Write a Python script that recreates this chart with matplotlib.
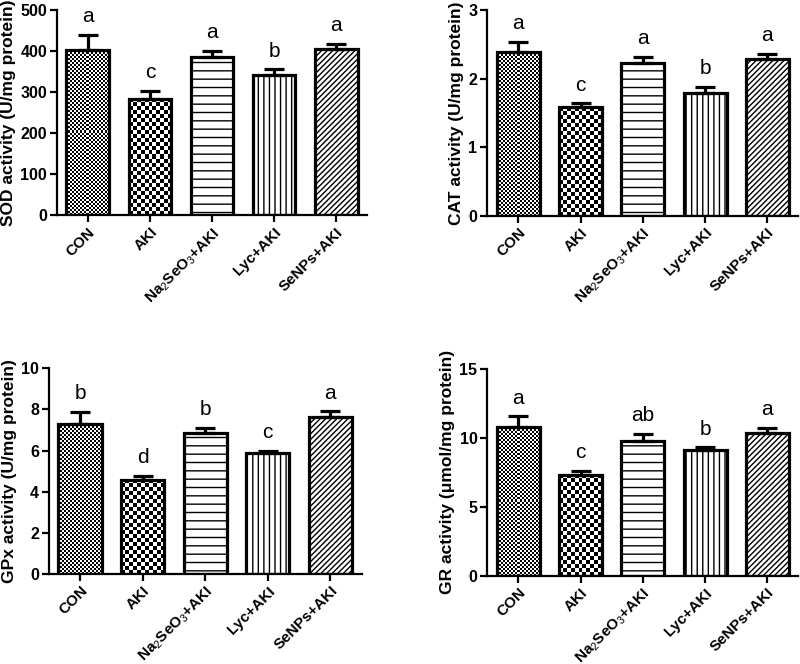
import numpy as np
import matplotlib
matplotlib.use('Agg')
import matplotlib.pyplot as plt

plt.rcParams['font.family'] = ['Liberation Sans', 'DejaVu Sans']
plt.rcParams['mathtext.fontset'] = 'custom'
plt.rcParams['mathtext.rm'] = 'Liberation Sans'
plt.rcParams['mathtext.it'] = 'Liberation Sans'
plt.rcParams['hatch.linewidth'] = 1.0

# 各組名稱
groups = ['CON', 'AKI', 'Na$_2$SeO$_3$+AKI', 'Lyc+AKI', 'SeNPs+AKI']

# SOD
sod_mean = [402, 284, 386, 341, 404]
sod_err = [37, 19, 15, 14, 14]
sod_letters = ['a', 'c', 'a', 'b', 'a']

# CAT
cat_mean = [2.39, 1.58, 2.22, 1.79, 2.28]
cat_err = [0.15, 0.06, 0.10, 0.09, 0.08]
cat_letters = ['a', 'c', 'a', 'b', 'a']

# GPx
gpx_mean = [7.28, 4.58, 6.84, 5.87, 7.64]
gpx_err = [0.60, 0.20, 0.26, 0.12, 0.26]
gpx_letters = ['b', 'd', 'b', 'c', 'a']

# GR
gr_mean = [10.77, 7.34, 9.81, 9.15, 10.36]
gr_err = [0.80, 0.29, 0.48, 0.19, 0.39]
gr_letters = ['a', 'c', 'ab', 'b', 'a']

fig = plt.figure(figsize=(8, 6.64), dpi=100)


def checker(ax, x0, x1, top, cell):
    # 用棋盤格圖片填滿長條
    p0 = ax.transData.transform((x0, 0))
    p1 = ax.transData.transform((x1, top))
    ncol = max(1, int(round(abs(p1[0] - p0[0]) / cell)))
    nrow = max(1, int(round(abs(p1[1] - p0[1]) / cell)))
    ii, jj = np.indices((nrow, ncol))
    img = (ii + jj) % 2
    ax.imshow(img, cmap='gray', extent=(x0, x1, 0, top), origin='lower',
              aspect='auto', interpolation='nearest', zorder=1)


def panel(rect, mean, err, letters, ylim, yticks, ylabel):
    ax = fig.add_axes(rect)
    x = np.arange(len(mean))
    w = 0.69
    ax.set_xlim(-0.5, 4.5)
    ax.set_ylim(0, ylim)

    checker(ax, x[0] - w / 2, x[0] + w / 2, mean[0], 2)
    checker(ax, x[1] - w / 2, x[1] + w / 2, mean[1], 4)
    hatches = ['', '', '--', '|||', '//////']
    for i in range(len(mean)):
        ax.bar(x[i], mean[i], width=w, facecolor='none' if i < 2 else 'white',
               edgecolor='black', linewidth=2.3, hatch=hatches[i], zorder=2)
    ax.errorbar(x, mean, yerr=[np.zeros(len(err)), err], fmt='none',
                ecolor='black', elinewidth=2.3, capsize=7, capthick=2.3, zorder=3)
    for i in range(len(mean)):
        ax.annotate(letters[i], (x[i], mean[i] + err[i]), xytext=(0, 9),
                    textcoords='offset points', ha='center', va='baseline',
                    fontsize=15)

    ax.set_xlim(-0.5, 4.5)
    ax.set_ylim(0, ylim)
    ax.set_yticks(yticks)
    ax.set_xticks(x)
    ax.set_xticklabels(groups, rotation=45, ha='right', rotation_mode='anchor',
                       fontweight='bold', fontsize=11)
    for lab in ax.get_yticklabels():
        lab.set_fontweight('bold')
        lab.set_fontsize(11.5)
    ax.set_ylabel(ylabel, fontweight='bold', fontsize=12.5, labelpad=3)
    ax.spines['top'].set_visible(False)
    ax.spines['right'].set_visible(False)
    ax.spines['left'].set_linewidth(1.6)
    ax.spines['bottom'].set_linewidth(1.6)
    ax.tick_params(width=1.6, length=5, pad=2)
    return ax


panel([0.071, 0.676, 0.388, 0.309], sod_mean, sod_err, sod_letters,
      500, [0, 100, 200, 300, 400, 500], 'SOD activity (U/mg protein)')
panel([0.609, 0.675, 0.389, 0.310], cat_mean, cat_err, cat_letters,
      3, [0, 1, 2, 3], 'CAT activity (U/mg protein)')
panel([0.061, 0.1355, 0.391, 0.310], gpx_mean, gpx_err, gpx_letters,
      10, [0, 2, 4, 6, 8, 10], 'GPx activity (U/mg protein)')
panel([0.609, 0.1325, 0.389, 0.312], gr_mean, gr_err, gr_letters,
      15, [0, 5, 10, 15], 'GR activity (\u03bcmol/mg protein)')

fig.savefig('out.png', dpi=100)
